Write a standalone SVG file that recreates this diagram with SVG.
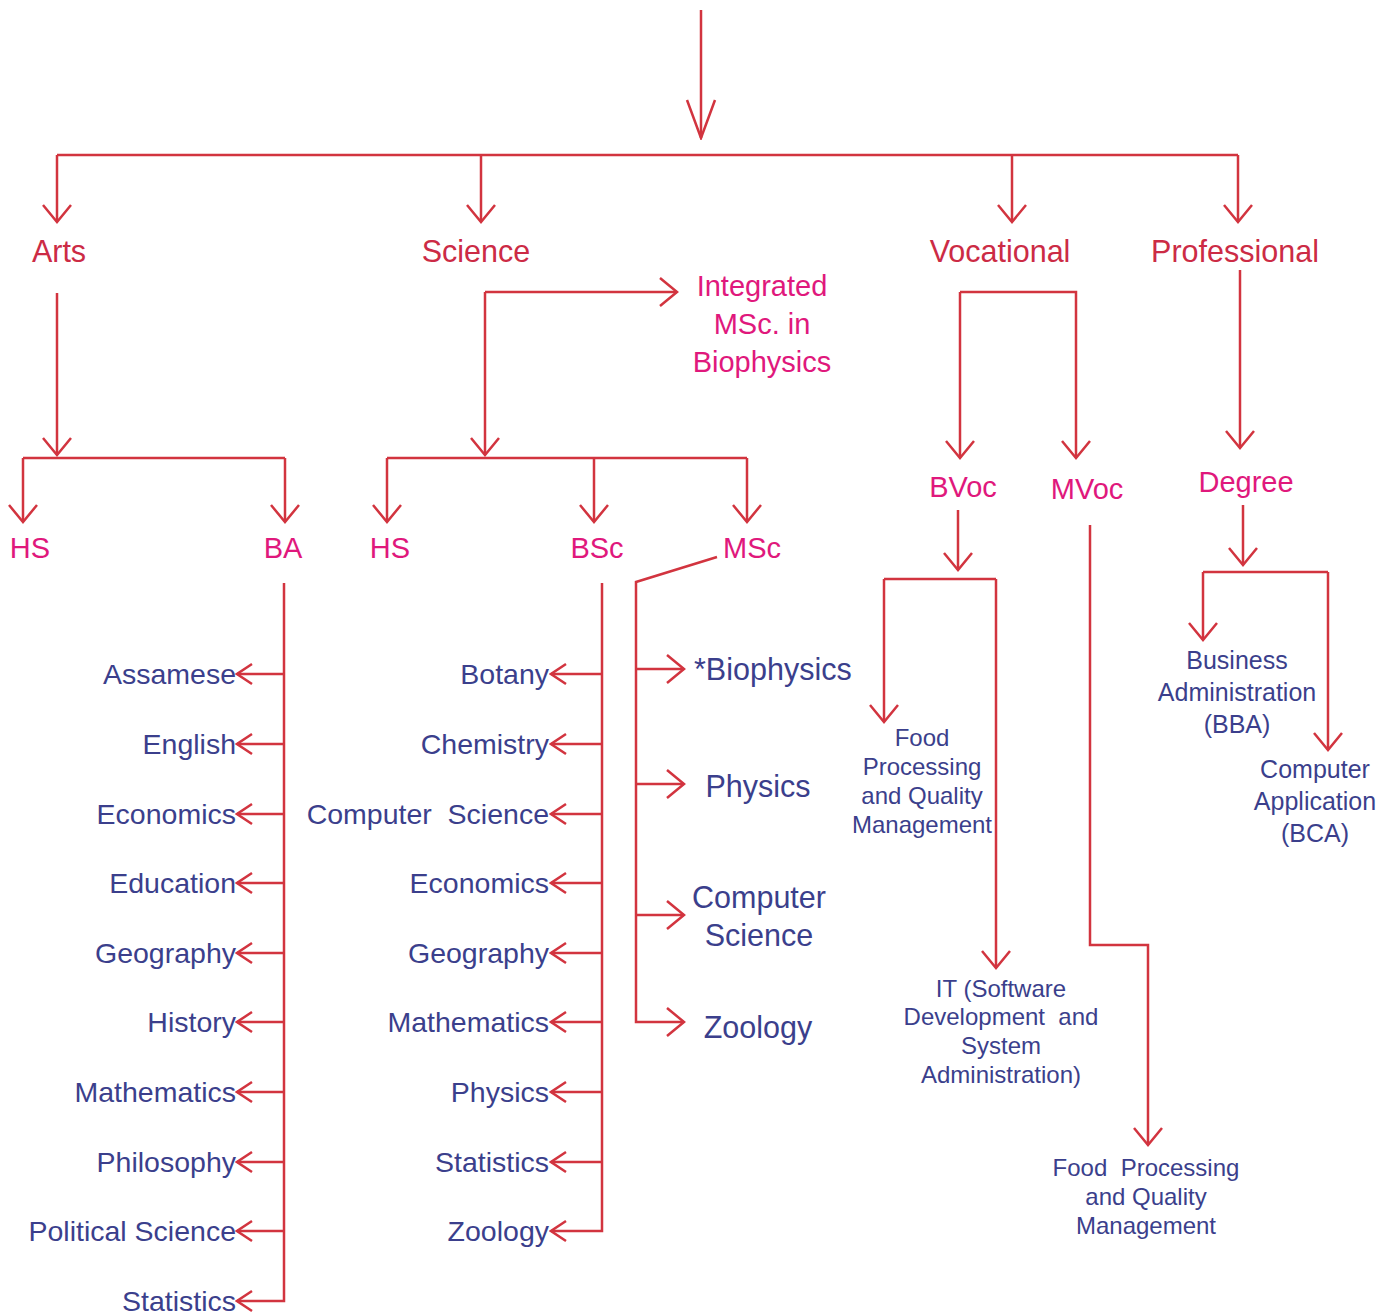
<svg xmlns="http://www.w3.org/2000/svg" width="1396" height="1315" viewBox="0 0 1396 1315">
<defs>
<style>
.c{fill:none;stroke:#d2343f;stroke-width:2.5;stroke-linejoin:miter}
.ca{fill:none;stroke:#d2343f;stroke-width:2.5;marker-end:url(#ar)}
.cs{fill:none;stroke:#d2343f;stroke-width:2.5;marker-end:url(#sm)}
.t{font-family:"Liberation Sans",Arial,sans-serif}
.h{fill:#cc2b45;font-size:30.5px;text-anchor:middle}
.p{fill:#e0187c;font-size:29px;text-anchor:middle}
.s{fill:#3b3f8c;font-size:28.5px;text-anchor:end}
.m{fill:#3b3f8c;font-size:30.5px}
.v{fill:#3b3f8c;font-size:24px;text-anchor:middle}
.b{fill:#3b3f8c;font-size:25px;text-anchor:middle}
</style>
<marker id="ar" viewBox="-20 -16 22 32" refX="0" refY="0" markerWidth="22" markerHeight="32" markerUnits="userSpaceOnUse" orient="auto">
<path d="M-17,-14 L0,0 L-17,14" fill="none" stroke="#d2343f" stroke-width="2.5"/>
</marker>
<marker id="sm" viewBox="-18 -12 20 24" refX="0" refY="0" markerWidth="20" markerHeight="24" markerUnits="userSpaceOnUse" orient="auto">
<path d="M-15,-10 L0,0 L-15,10" fill="none" stroke="#d2343f" stroke-width="2.5"/>
</marker>
<marker id="big" viewBox="-42 -17 44 34" refX="0" refY="0" markerWidth="44" markerHeight="34" markerUnits="userSpaceOnUse" orient="auto">
<path d="M-38,-14 L0,0 L-38,14" fill="none" stroke="#d2343f" stroke-width="2.5"/>
</marker>
</defs>
<g id="connectors">
<path class="c" d="M701,10 V138" style="marker-end:url(#big)"/>
<path class="c" d="M57,155 H1238"/>
<path class="ca" d="M57,155 V222"/>
<path class="ca" d="M481,155 V222"/>
<path class="ca" d="M1012,155 V222"/>
<path class="ca" d="M1238,155 V222"/>
<path class="ca" d="M57,293 V455"/>
<path class="c" d="M23,458 H285"/>
<path class="ca" d="M23,458 V522"/>
<path class="ca" d="M285,458 V522"/>
<path class="cs" d="M284,583 V1301 H237"/>
<path class="cs" d="M284,674 H237"/>
<path class="cs" d="M284,744 H237"/>
<path class="cs" d="M284,814 H237"/>
<path class="cs" d="M284,883 H237"/>
<path class="cs" d="M284,953 H237"/>
<path class="cs" d="M284,1022 H237"/>
<path class="cs" d="M284,1092 H237"/>
<path class="cs" d="M284,1162 H237"/>
<path class="cs" d="M284,1231 H237"/>
<path class="ca" d="M485,292 H677"/>
<path class="ca" d="M485,292 V455"/>
<path class="c" d="M387,458 H747"/>
<path class="ca" d="M387,458 V522"/>
<path class="ca" d="M594,458 V522"/>
<path class="ca" d="M747,458 V522"/>
<path class="cs" d="M602,583 V1231 H551"/>
<path class="cs" d="M602,674 H551"/>
<path class="cs" d="M602,744 H551"/>
<path class="cs" d="M602,814 H551"/>
<path class="cs" d="M602,883 H551"/>
<path class="cs" d="M602,953 H551"/>
<path class="cs" d="M602,1022 H551"/>
<path class="cs" d="M602,1092 H551"/>
<path class="cs" d="M602,1162 H551"/>
<path class="ca" d="M717,557 L636,582 V1022 H684"/>
<path class="ca" d="M636,669 H684"/>
<path class="ca" d="M636,784 H684"/>
<path class="ca" d="M636,915 H684"/>
<path class="ca" d="M960,292 V458"/>
<path class="ca" d="M960,292 H1076 V458"/>
<path class="ca" d="M958,510 V570"/>
<path class="c" d="M884,579 H996"/>
<path class="ca" d="M884,579 V722"/>
<path class="ca" d="M996,579 V968"/>
<path class="ca" d="M1090,525 V945 H1148 V1145"/>
<path class="ca" d="M1240,270 V448"/>
<path class="ca" d="M1243,505 V565"/>
<path class="c" d="M1203,572 H1328"/>
<path class="ca" d="M1203,572 V640"/>
<path class="ca" d="M1328,572 V750"/>
</g>
<g id="n-arts"><text class="t h" x="59" y="262">Arts</text></g>
<g id="n-science"><text class="t h" x="476" y="262">Science</text></g>
<g id="n-vocational"><text class="t h" x="1000" y="262">Vocational</text></g>
<g id="n-professional"><text class="t h" x="1235" y="262">Professional</text></g>
<g id="n-arts-hs"><text class="t p" x="30" y="558">HS</text></g>
<g id="n-ba"><text class="t p" x="283" y="558">BA</text></g>
<g id="n-sci-hs"><text class="t p" x="390" y="558">HS</text></g>
<g id="n-bsc"><text class="t p" x="597" y="558">BSc</text></g>
<g id="n-msc"><text class="t p" x="752" y="558">MSc</text></g>
<g id="n-integrated"><text class="t p" x="762" y="296">Integrated</text><text class="t p" x="762" y="334">MSc. in</text><text class="t p" x="762" y="372">Biophysics</text></g>
<g id="n-bvoc"><text class="t p" x="963" y="497">BVoc</text></g>
<g id="n-mvoc"><text class="t p" x="1087" y="499">MVoc</text></g>
<g id="n-degree"><text class="t p" x="1246" y="492">Degree</text></g>
<g id="n-ba-subjects">
<text class="t s" x="236" y="684">Assamese</text>
<text class="t s" x="236" y="754">English</text>
<text class="t s" x="236" y="824">Economics</text>
<text class="t s" x="236" y="893">Education</text>
<text class="t s" x="236" y="963">Geography</text>
<text class="t s" x="236" y="1032">History</text>
<text class="t s" x="236" y="1102">Mathematics</text>
<text class="t s" x="236" y="1172">Philosophy</text>
<text class="t s" x="236" y="1241">Political Science</text>
<text class="t s" x="236" y="1311">Statistics</text>
</g>
<g id="n-bsc-subjects">
<text class="t s" x="549" y="684">Botany</text>
<text class="t s" x="549" y="754">Chemistry</text>
<text class="t s" x="549" y="824">Computer&#160; Science</text>
<text class="t s" x="549" y="893">Economics</text>
<text class="t s" x="549" y="963">Geography</text>
<text class="t s" x="549" y="1032">Mathematics</text>
<text class="t s" x="549" y="1102">Physics</text>
<text class="t s" x="549" y="1172">Statistics</text>
<text class="t s" x="549" y="1241">Zoology</text>
</g>
<g id="n-msc-biophysics"><text class="t m" x="694" y="680">*Biophysics</text></g>
<g id="n-msc-physics"><text class="t m" x="758" y="797" text-anchor="middle">Physics</text></g>
<g id="n-msc-cs"><text class="t m" x="759" y="908" text-anchor="middle">Computer</text><text class="t m" x="759" y="946" text-anchor="middle">Science</text></g>
<g id="n-msc-zoology"><text class="t m" x="758" y="1038" text-anchor="middle">Zoology</text></g>
<g id="n-bvoc-food"><text class="t v" x="922" y="746">Food</text><text class="t v" x="922" y="775">Processing</text><text class="t v" x="922" y="804">and Quality</text><text class="t v" x="922" y="833">Management</text></g>
<g id="n-bvoc-it"><text class="t v" x="1001" y="997">IT (Software</text><text class="t v" x="1001" y="1025">Development&#160; and</text><text class="t v" x="1001" y="1054">System</text><text class="t v" x="1001" y="1083">Administration)</text></g>
<g id="n-mvoc-food"><text class="t v" x="1146" y="1176">Food&#160; Processing</text><text class="t v" x="1146" y="1205">and Quality</text><text class="t v" x="1146" y="1234">Management</text></g>
<g id="n-bba"><text class="t b" x="1237" y="669">Business</text><text class="t b" x="1237" y="701">Administration</text><text class="t b" x="1237" y="733">(BBA)</text></g>
<g id="n-bca"><text class="t b" x="1315" y="778">Computer</text><text class="t b" x="1315" y="810">Application</text><text class="t b" x="1315" y="842">(BCA)</text></g>
</svg>
